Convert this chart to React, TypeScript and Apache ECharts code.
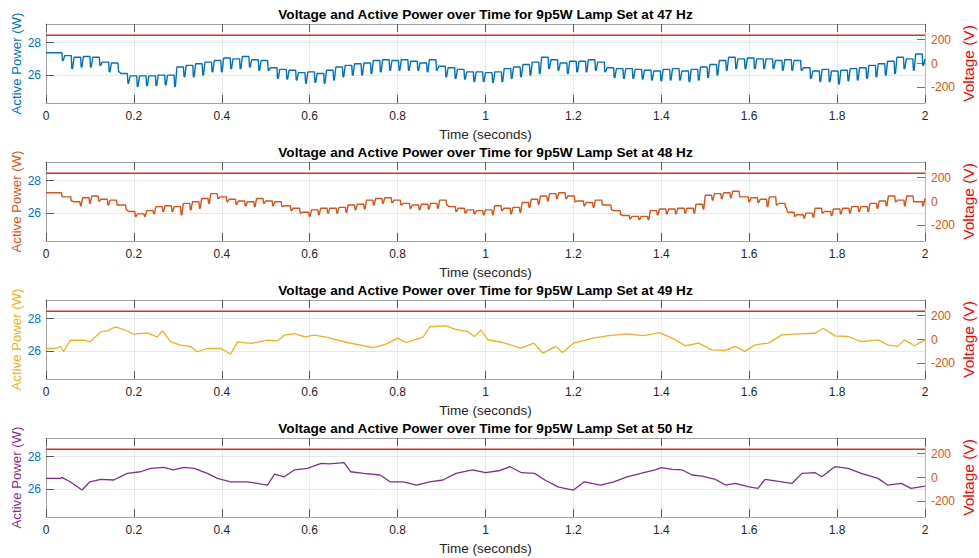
import React, { useEffect, useRef } from 'react';
import * as echarts from 'echarts';

const FREQS = [47, 48, 49, 50];
const SERIES_COLORS = ['#0072BD', '#D95319', '#EDB120', '#7E2F8E'];
const TIME_RANGE = [0, 2];
const POWER_RANGE = [24.28, 29.15];
const VOLTAGE_RANGE = [-330, 330];
const VOLTAGE_LEVEL = 236;

// 47 Hz: per-mains-cycle plateau value and dip value (W)
const TOPS_47 = [
  27.38, 27.38, 27.2, 27.1, 27.15, 27.1, 26.8, 26.75, 26.1, 25.95,
  25.95, 25.95, 26.0, 26.0, 26.5, 26.6, 26.7, 26.8, 26.9, 27.05,
  27.0, 27.15, 26.95, 26.9, 26.45, 26.35, 26.3, 26.15, 26.2, 26.1,
  26.3, 26.5, 26.6, 26.7, 26.75, 26.9, 26.95, 26.9, 26.95, 26.85,
  26.75, 26.95, 26.55, 26.45, 26.35, 26.2, 26.2, 26.15, 26.2, 26.4,
  26.5, 26.65, 26.8, 27.1, 26.95, 26.75, 26.85, 26.85, 26.95, 26.8,
  26.45, 26.4, 26.4, 26.35, 26.3, 26.25, 26.35, 26.4, 26.25, 26.35,
  26.5, 26.65, 26.9, 27.1, 27.0, 27.05, 27.0, 27.0, 26.9, 26.95,
  26.9, 26.45, 26.25, 26.35, 26.25, 26.3, 26.4, 26.45, 26.6, 26.7,
  26.85, 27.1, 27.0, 27.3,
];
const DIPS_47 = [
  27.38, 26.9, 26.4, 26.5, 26.5, 26.6, 26.2, 26.2, 25.5, 25.3,
  25.35, 25.35, 25.4, 25.3, 25.9, 25.9, 26.0, 26.2, 26.2, 26.4,
  26.4, 26.5, 26.3, 26.3, 25.8, 25.75, 25.7, 25.5, 25.55, 25.5,
  25.7, 25.9, 26.0, 26.0, 26.1, 26.2, 26.3, 26.3, 26.3, 26.3,
  26.2, 26.3, 25.9, 25.8, 25.75, 25.6, 25.6, 25.55, 25.6, 25.8,
  25.9, 26.0, 26.1, 26.4, 26.3, 26.1, 26.2, 26.2, 26.3, 26.2,
  25.85, 25.8, 25.8, 25.75, 25.7, 25.65, 25.7, 25.7, 25.6, 25.7,
  25.85, 26.0, 26.3, 26.4, 26.4, 26.4, 26.4, 26.4, 26.3, 26.3,
  26.3, 25.8, 25.6, 25.6, 25.45, 25.65, 25.7, 25.8, 25.9, 26.0,
  26.1, 26.4, 26.3, 26.6,
];
const END_47 = 27.0;

// 48 Hz: per-mains-cycle plateau value and dip value (W)
const TOPS_48 = [
  27.25, 27.25, 27.0, 26.7, 26.95, 27.05, 26.85, 26.8, 26.5, 26.1,
  25.95, 26.15, 26.4, 26.45, 26.4, 26.6, 26.7, 26.9, 27.2, 27.0,
  26.85, 26.75, 26.7, 26.9, 26.75, 26.7, 26.45, 26.3, 26.05, 26.2,
  26.3, 26.3, 26.35, 26.5, 26.55, 26.8, 26.9, 26.95, 26.8, 26.6,
  26.5, 26.55, 26.6, 26.8, 26.4, 26.3, 26.2, 26.15, 26.2, 26.45,
  26.3, 26.35, 26.65, 26.85, 27.05, 27.2, 27.25, 27.05, 26.75, 26.65,
  26.8, 26.5, 26.15, 25.85, 25.8, 25.8, 26.15, 26.25, 26.25, 26.3,
  26.3, 26.55, 27.1, 27.2, 27.25, 27.35, 27.0, 26.95, 26.85, 27.0,
  26.6, 26.05, 25.9, 26.0, 26.3, 26.1, 26.25, 26.3, 26.4, 26.4,
  26.6, 26.75, 27.05, 26.8, 27.05, 26.7,
];
const DIPS_48 = [
  27.25, 27.0, 26.75, 26.45, 26.6, 26.75, 26.5, 26.5, 26.2, 25.8,
  25.8, 25.95, 26.1, 26.1, 25.9, 26.2, 26.3, 26.6, 26.9, 26.7,
  26.55, 26.45, 26.4, 26.6, 26.45, 26.4, 26.15, 26.0, 25.8, 25.9,
  26.0, 26.0, 26.05, 26.2, 26.25, 26.5, 26.6, 26.65, 26.5, 26.3,
  26.2, 26.25, 26.3, 26.5, 26.1, 26.0, 25.95, 25.9, 25.9, 26.15,
  25.95, 26.05, 26.35, 26.55, 26.75, 26.9, 26.9, 26.7, 26.45, 26.35,
  26.5, 26.2, 25.9, 25.65, 25.6, 25.6, 25.9, 25.95, 25.95, 26.0,
  26.0, 26.25, 26.8, 26.9, 26.95, 27.0, 26.7, 26.65, 26.4, 26.5,
  26.35, 25.8, 25.7, 25.75, 26.0, 25.85, 25.95, 26.0, 26.1, 26.1,
  26.3, 26.45, 26.7, 26.45, 26.7, 26.45,
];
const END_48 = 26.9;

// 49 Hz: [time s, power W]
const POWER_49 = [
  [0, 26.16], [0.017, 26.16], [0.025, 26.2], [0.033, 26.3], [0.04, 25.96], [0.055, 26.67],
  [0.086, 26.67], [0.1, 26.57], [0.124, 27.18], [0.14, 27.25], [0.158, 27.5], [0.177, 27.33],
  [0.2, 27.04], [0.23, 27.12], [0.253, 26.88], [0.265, 27.25], [0.284, 26.57], [0.306, 26.37],
  [0.33, 26.27], [0.344, 25.96], [0.367, 26.16], [0.398, 26.16], [0.42, 25.82], [0.436, 26.57],
  [0.466, 26.47], [0.504, 26.67], [0.527, 26.63], [0.542, 26.98], [0.565, 27.08], [0.589, 26.88],
  [0.61, 26.98], [0.64, 26.84], [0.685, 26.53], [0.745, 26.22], [0.775, 26.45], [0.8, 26.8],
  [0.82, 26.53], [0.858, 26.86], [0.873, 27.5], [0.91, 27.55], [0.93, 27.35], [0.96, 27.2],
  [0.975, 26.9], [0.99, 27.3], [1.005, 26.7], [1.04, 26.53], [1.08, 26.18], [1.11, 26.49],
  [1.13, 25.88], [1.16, 26.29], [1.175, 25.92], [1.2, 26.49], [1.245, 26.8], [1.28, 26.96],
  [1.32, 27.06], [1.36, 26.96], [1.395, 27.14], [1.425, 26.8], [1.455, 26.33], [1.485, 26.49],
  [1.515, 26.08], [1.546, 26.04], [1.568, 26.29], [1.59, 25.98], [1.614, 26.39], [1.644, 26.49],
  [1.674, 27.0], [1.712, 27.06], [1.75, 27.1], [1.768, 27.41], [1.795, 26.94], [1.825, 26.9],
  [1.855, 26.59], [1.893, 26.69], [1.915, 26.39], [1.938, 26.29], [1.953, 26.69], [1.976, 26.33],
  [2.0, 26.69],
];

// 50 Hz: [time s, power W]
const POWER_50 = [
  [0, 26.66], [0.033, 26.66], [0.036, 26.72], [0.055, 26.45], [0.082, 25.94], [0.1, 26.45],
  [0.124, 26.6], [0.154, 26.56], [0.185, 26.97], [0.215, 27.07], [0.238, 27.28], [0.268, 27.34],
  [0.29, 27.18], [0.314, 27.34], [0.337, 27.28], [0.367, 26.97], [0.39, 26.66], [0.42, 26.45],
  [0.458, 26.45], [0.49, 26.31], [0.504, 26.25], [0.52, 26.93], [0.542, 26.76], [0.565, 27.18],
  [0.595, 27.28], [0.626, 27.59], [0.645, 27.55], [0.678, 27.63], [0.693, 27.07], [0.723, 26.97],
  [0.76, 26.87], [0.783, 26.45], [0.813, 26.45], [0.843, 26.25], [0.873, 26.45], [0.903, 26.56],
  [0.933, 26.97], [0.97, 27.18], [1.0, 27.01], [1.03, 27.13], [1.056, 27.38], [1.082, 27.01],
  [1.112, 26.97], [1.135, 26.56], [1.165, 26.14], [1.18, 26.04], [1.2, 25.94], [1.225, 26.45],
  [1.262, 26.25], [1.292, 26.45], [1.322, 26.76], [1.36, 27.01], [1.386, 27.18], [1.4, 27.32],
  [1.425, 27.22], [1.448, 27.18], [1.47, 26.87], [1.493, 26.8], [1.523, 26.6], [1.546, 26.25],
  [1.568, 26.35], [1.6, 26.14], [1.62, 26.04], [1.636, 26.6], [1.674, 26.45], [1.697, 26.35],
  [1.72, 26.97], [1.75, 27.01], [1.765, 26.76], [1.795, 27.38], [1.825, 27.28], [1.855, 26.97],
  [1.893, 26.66], [1.915, 26.25], [1.946, 26.35], [1.968, 26.04], [2.0, 26.19],
];

const FONT = '"Liberation Sans", Arial, Helvetica, sans-serif';

// one sample per edge of each mains cycle: plateau, sharp dip, quick recovery
function buildRipple(freq: number, tops: number[], dips: number[], endValue: number) {
  const period = 1 / freq;
  const pts: number[][] = [];
  tops.forEach((top, k) => {
    const t0 = k * period;
    pts.push([t0, top]);
    pts.push([t0 + 0.7 * period, top]);
    pts.push([t0 + 0.76 * period, dips[k]]);
    pts.push([t0 + 0.84 * period, dips[k]]);
  });
  pts.push([TIME_RANGE[1], endValue]);
  return pts;
}

const POWER_DATA = [
  buildRipple(47, TOPS_47, DIPS_47, END_47),
  buildRipple(48, TOPS_48, DIPS_48, END_48),
  POWER_49,
  POWER_50,
];

const PLOT_TOPS = [24, 162, 300, 438];
const PLOT_LEFT = 46;
const PLOT_WIDTH = 879;
const PLOT_HEIGHT = 79;
const FRAME = '#a3a3a3';
const TICK = '#5a5a5a';
const GRID_LINE = '#e4e9eb';

export default function App() {
  const ref = useRef<HTMLDivElement>(null);
  useEffect(() => {
    if (!ref.current) return;
    const chart = echarts.init(ref.current, null, { renderer: 'svg' });
    const xAxes: any[] = [];
    const yAxes: any[] = [];
    const series: any[] = [];
    FREQS.forEach((f, i) => {
      xAxes.push({
        type: 'value', gridIndex: i, position: 'bottom', min: TIME_RANGE[0], max: TIME_RANGE[1], interval: 0.2,
        name: 'Time (seconds)', nameLocation: 'middle', nameGap: 24,
        nameTextStyle: { fontSize: 13.5, color: '#262626', fontFamily: FONT },
        axisLine: { show: true, onZero: false, lineStyle: { color: FRAME, width: 1 } },
        axisTick: { show: true, inside: true, length: 8, lineStyle: { color: TICK, width: 1 } },
        axisLabel: { fontSize: 12, color: '#262626', margin: 7, fontFamily: FONT },
        splitLine: { show: true, lineStyle: { color: GRID_LINE, width: 1 } },
      });
      xAxes.push({
        type: 'value', gridIndex: i, position: 'top', min: TIME_RANGE[0], max: TIME_RANGE[1], interval: 0.2,
        axisLine: { show: true, onZero: false, lineStyle: { color: FRAME, width: 1 } },
        axisTick: { show: true, inside: true, length: 8, lineStyle: { color: TICK, width: 1 } },
        axisLabel: { show: false },
        splitLine: { show: false },
      });
      yAxes.push({
        type: 'value', gridIndex: i, position: 'left', min: POWER_RANGE[0], max: POWER_RANGE[1], splitNumber: 3,
        name: 'Active Power (W)', nameLocation: 'middle', nameGap: 23, nameRotate: 90, nameMoveOverlap: false,
        nameTextStyle: { fontSize: 13.2, color: SERIES_COLORS[i], fontFamily: FONT },
        axisLine: { show: true, onZero: false, lineStyle: { color: FRAME, width: 1 } },
        axisTick: { show: true, inside: true, length: 8, lineStyle: { color: TICK, width: 1 } },
        axisLabel: { fontSize: 12, color: '#0072BD', margin: 5, showMinLabel: false, showMaxLabel: false, fontFamily: FONT },
        splitLine: { show: true, lineStyle: { color: GRID_LINE, width: 1 } },
      });
      yAxes.push({
        type: 'value', gridIndex: i, position: 'right', min: VOLTAGE_RANGE[0], max: VOLTAGE_RANGE[1], splitNumber: 3,
        name: 'Voltage (V)', nameLocation: 'middle', nameGap: 35, nameRotate: 90, nameMoveOverlap: false,
        nameTextStyle: { fontSize: 15.5, color: '#FF0000', fontFamily: FONT },
        axisLine: { show: true, onZero: false, lineStyle: { color: '#e2ad92', width: 1 } },
        axisTick: { show: true, inside: true, length: 8, lineStyle: { color: '#D95319', width: 1 } },
        axisLabel: { fontSize: 12, color: '#D95319', margin: 6, showMinLabel: false, showMaxLabel: false, fontFamily: FONT },
        splitLine: { show: false },
      });
      series.push({
        type: 'line', name: `Active Power ${f} Hz`, xAxisIndex: 2 * i, yAxisIndex: 2 * i,
        data: POWER_DATA[i], showSymbol: false, symbol: 'none',
        lineStyle: { color: SERIES_COLORS[i], width: i < 2 ? 1.4 : 1.3 }, z: 3,
      });
      series.push({
        type: 'line', name: `Voltage ${f} Hz`, xAxisIndex: 2 * i, yAxisIndex: 2 * i + 1,
        data: [[TIME_RANGE[0], VOLTAGE_LEVEL], [TIME_RANGE[1], VOLTAGE_LEVEL]], showSymbol: false, symbol: 'none',
        lineStyle: { color: '#F22424', width: 1.3 }, z: 4,
      });
    });
    chart.setOption({
      animation: false,
      backgroundColor: '#ffffff',
      textStyle: { fontFamily: FONT },
      title: FREQS.map((f, i) => ({
        text: `Voltage and Active Power over Time for 9p5W Lamp Set at ${f} Hz`,
        left: PLOT_LEFT + PLOT_WIDTH / 2, top: PLOT_TOPS[i] - 17, textAlign: 'center', padding: 0,
        textStyle: { fontSize: 13.6, fontWeight: 'bold', color: '#000000', fontFamily: FONT },
      })),
      grid: PLOT_TOPS.map((top) => ({
        left: PLOT_LEFT, width: PLOT_WIDTH, top, height: PLOT_HEIGHT,
        containLabel: false, outerBoundsMode: 'none',
      })),
      xAxis: xAxes,
      yAxis: yAxes,
      series,
    });
    return () => chart.dispose();
  }, []);
  return <div ref={ref} style={{ position: 'fixed', left: 0, top: 0, width: 979, height: 558, background: '#fff' }} />;
}
